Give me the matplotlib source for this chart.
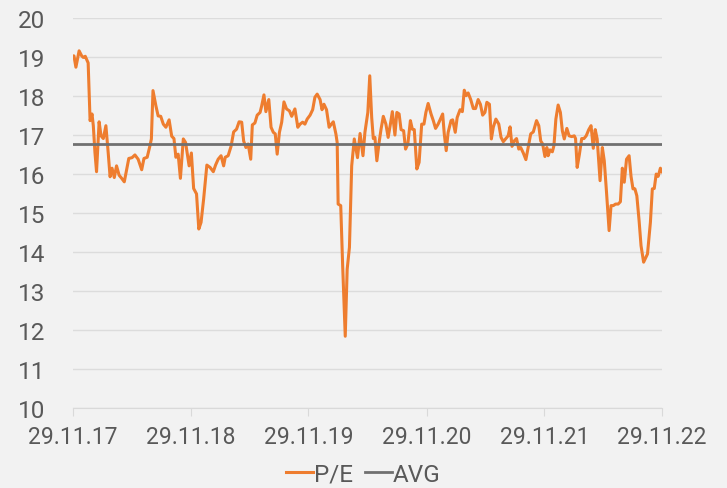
import matplotlib.pyplot as plt
import matplotlib.dates as mdates
import pandas as pd

# days since 29.11.2017 and P/E values
days = [0, 3, 9, 19, 27, 32, 38, 47, 53, 59, 63, 68, 73, 81, 87, 94, 102, 109, 115,
        121, 128, 135, 143, 151, 159, 173, 183, 192, 202, 213, 220, 230, 239, 243,
        248, 257, 264, 272, 280, 288, 298, 306, 313, 319, 326, 333, 342, 349, 360,
        367, 374, 383, 390, 397, 405, 415, 425, 435, 442, 450, 459, 467, 472, 481,
        490, 498, 507, 515, 523, 529, 536, 543, 551, 556, 564, 571, 580, 585, 592,
        598, 607, 614, 621, 627, 633, 640, 647, 654, 662, 671, 678, 688, 697, 704,
        712, 719, 726, 735, 743, 750, 757, 766, 772, 778, 786, 794, 801, 807, 815,
        819, 822, 830, 836, 844, 850, 857, 864, 872, 882, 890, 899, 905, 914, 920,
        926, 931, 936, 942, 949, 955, 962, 970, 977, 984, 990, 998, 1004, 1011,
        1017, 1025, 1031, 1038, 1046, 1052, 1058, 1066, 1073, 1081, 1088, 1094,
        1101, 1110, 1117, 1124, 1132, 1141, 1146, 1151, 1157, 1163, 1172, 1177,
        1185, 1191, 1200, 1207, 1213, 1219, 1225, 1233, 1241, 1248, 1256, 1263,
        1270, 1277, 1283, 1291, 1297, 1303, 1311, 1320, 1327, 1334, 1342, 1349,
        1355, 1361, 1368, 1375, 1382, 1388, 1396, 1404, 1413, 1419, 1427, 1437,
        1444, 1450, 1456, 1463, 1469, 1473, 1479, 1486, 1491, 1497, 1504, 1511,
        1517, 1523, 1531, 1538, 1546, 1554, 1558, 1563, 1570, 1577, 1584, 1591,
        1599, 1606, 1613, 1619, 1625, 1634, 1641, 1647, 1654, 1662, 1668, 1675,
        1682, 1690, 1697, 1703, 1709, 1716, 1724, 1730, 1736, 1742, 1748, 1755,
        1761, 1769, 1781, 1790, 1796, 1802, 1808, 1814, 1821, 1826]
pe = [19.03, 19.03, 18.74, 19.16, 19.03, 18.99, 19.02, 18.85, 17.37, 17.54, 17.24,
      16.56, 16.06, 17.34, 16.98, 16.91, 17.24, 16.56, 15.93, 16.15, 15.91, 16.21,
      15.97, 15.89, 15.80, 16.40, 16.42, 16.49, 16.38, 16.11, 16.40, 16.43, 16.74,
      16.90, 18.14, 17.75, 17.49, 17.48, 17.28, 17.20, 17.39, 16.97, 16.91, 16.43,
      16.51, 15.89, 16.90, 16.81, 16.21, 16.54, 15.63, 15.49, 14.59, 14.76, 15.36,
      16.23, 16.17, 16.06, 16.23, 16.38, 16.47, 16.21, 16.43, 16.47, 16.71, 17.08,
      17.15, 17.34, 17.33, 16.85, 16.68, 16.77, 16.38, 17.26, 17.31, 17.51, 17.58,
      17.75, 18.03, 17.60, 17.91, 17.20, 17.07, 17.03, 16.51, 17.07, 17.33, 17.85,
      17.67, 17.62, 17.48, 17.67, 17.20, 17.28, 17.33, 17.28, 17.41, 17.51, 17.65,
      17.97, 18.05, 17.91, 17.65, 17.79, 17.65, 17.20, 17.28, 17.34, 17.03, 16.81,
      15.23, 15.19, 13.65, 11.84, 13.56, 14.12, 16.21, 16.90, 16.42, 17.04, 16.47,
      17.07, 17.58, 18.52, 17.45, 16.91, 16.94, 16.34, 16.81, 17.15, 17.48, 17.28,
      16.94, 17.28, 17.60, 17.00, 17.58, 17.54, 17.14, 17.11, 16.64, 16.77, 17.37,
      17.15, 17.14, 16.13, 16.30, 17.28, 17.28, 17.58, 17.81, 17.54, 17.37, 17.17,
      17.28, 17.45, 17.54, 17.03, 16.60, 17.07, 17.37, 17.39, 17.07, 17.45, 17.65,
      17.60, 18.15, 18.01, 18.08, 17.91, 17.68, 17.68, 17.91, 17.79, 17.51, 17.58,
      17.84, 17.79, 16.90, 17.20, 17.41, 17.28, 16.94, 16.83, 16.91, 16.98, 17.21,
      16.71, 16.85, 16.91, 16.64, 16.68, 16.54, 16.37, 16.77, 17.03, 17.08, 17.37,
      17.24, 16.85, 16.77, 16.45, 16.68, 16.47, 16.62, 16.57, 16.73, 17.41, 17.77,
      17.58, 17.11, 16.90, 17.17, 16.98, 16.96, 16.98, 16.91, 16.17, 16.51, 16.91,
      16.91, 16.98, 17.14, 17.24, 16.66, 17.14, 16.90, 15.83, 16.68, 16.34, 15.53,
      14.55, 15.19, 15.19, 15.23, 15.23, 15.29, 16.15, 15.79, 16.38, 16.47, 15.94,
      15.62, 15.62, 15.44, 14.80, 14.16, 13.74, 13.95, 14.76, 15.62, 15.63, 16.00,
      15.94, 16.15, 16.06]
avg = 16.78
start = pd.Timestamp('2017-11-29')
end = pd.Timestamp('2022-11-29')
tick_dates = pd.date_range(start, end, freq=pd.DateOffset(years=1))

dates = start + pd.to_timedelta(days, unit='D')

bg = '#F2F2F2'
txt = '#595959'
plt.rcParams['font.family'] = ['Roboto', 'DejaVu Sans']

fig = plt.figure(figsize=(7.27, 4.89), dpi=100, facecolor=bg)
ax = fig.add_axes([0.1004, 0.1636, 0.8102, 0.7974], facecolor=bg)

ax.plot(dates, pe, color='#EE7D2F', lw=2.2, label='P/E', zorder=3)
ax.plot([start, end], [avg, avg], color='#707070', lw=2.0, label='AVG', zorder=4)

ax.set_xlim(start, end)
ax.set_ylim(10, 20)
ax.set_yticks(range(10, 21))
ax.set_xticks(tick_dates)
ax.xaxis.set_major_formatter(mdates.DateFormatter('%d.%m.%y'))
ax.grid(axis='y', color='#DCDCDC', lw=1)
ax.set_axisbelow(True)
for s in ['left', 'right', 'top']:
    ax.spines[s].set_visible(False)
ax.spines['bottom'].set_color('#D9D9D9')
ax.tick_params(axis='y', length=0, pad=20, labelsize=17.5, labelcolor=txt)
ax.tick_params(axis='x', length=6, color='#D9D9D9', pad=6, labelsize=16.5, labelcolor=txt)

leg = fig.legend(loc='lower center', bbox_to_anchor=(0.5, -0.04), ncol=2, frameon=False,
                 fontsize=17.5, handlelength=1.1, handletextpad=0.05, columnspacing=0.5)
for t in leg.get_texts():
    t.set_color(txt)

fig.savefig('out.png', dpi=100, facecolor=bg)
